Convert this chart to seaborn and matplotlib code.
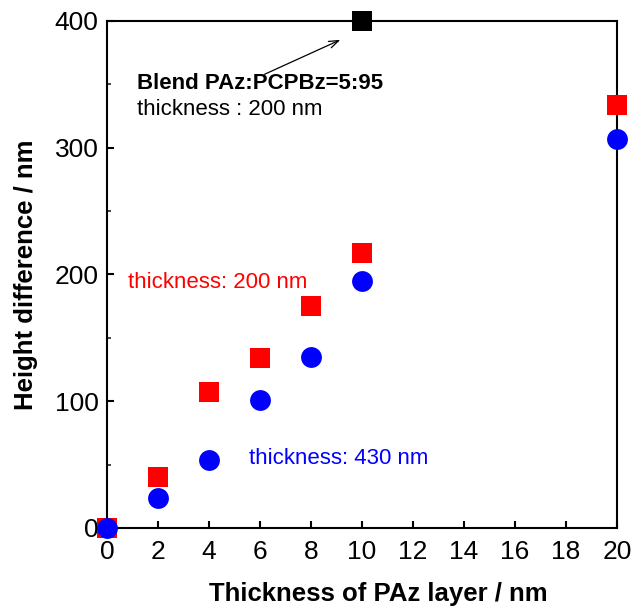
import matplotlib
matplotlib.use("Agg")
import matplotlib.pyplot as plt
import pandas as pd
import seaborn as sns
from matplotlib.ticker import MultipleLocator

# PAz layer thickness (nm) and height difference (nm)
x_pts = [0, 2, 4, 6, 8, 10, 20]
h_200 = [0, 40, 107, 134, 175, 217, 334]
h_430 = [0, 24, 54, 101, 135, 195, 307]
blend_x = [10]
blend_h = [400]

df200 = pd.DataFrame({'x': x_pts, 'h': h_200})
df430 = pd.DataFrame({'x': x_pts, 'h': h_430})
dfblend = pd.DataFrame({'x': blend_x, 'h': blend_h})

sns.set_style("white")
plt.rcParams['font.family'] = ['Liberation Sans', 'DejaVu Sans']
plt.rcParams['text.color'] = 'black'
plt.rcParams['axes.labelcolor'] = 'black'

fig = plt.figure(figsize=(6.32, 6.08), dpi=100)
ax = fig.add_axes([0.1693, 0.1316, 0.807, 0.834])

sns.scatterplot(data=df200, x='x', y='h', marker='s', s=190, color='#ff0000',
                linewidth=0, ax=ax, clip_on=False, zorder=3)
sns.scatterplot(data=df430, x='x', y='h', marker='o', s=225, color='#0000ff',
                linewidth=0, ax=ax, clip_on=False, zorder=4)
sns.scatterplot(data=dfblend, x='x', y='h', marker='s', s=190, color='black',
                linewidth=0, ax=ax, clip_on=False, zorder=5)

ax.set_xlim(0, 20)
ax.set_ylim(0, 400)
ax.xaxis.set_major_locator(MultipleLocator(2))
ax.yaxis.set_major_locator(MultipleLocator(100))
ax.yaxis.set_minor_locator(MultipleLocator(50))
ax.tick_params(axis='both', which='major', direction='in', length=5, width=1.5,
               labelsize=19, colors='black')
ax.tick_params(axis='x', which='major', pad=9, bottom=True, top=False)
ax.tick_params(axis='y', which='major', pad=6, left=True, right=False)
ax.tick_params(axis='y', which='minor', direction='in', length=3, width=1.2, left=True)
for sp in ax.spines.values():
    sp.set_linewidth(1.5)
    sp.set_color('black')

ax.set_xlabel('Thickness of PAz layer / nm', fontsize=18.5, fontweight='bold')
ax.set_ylabel('Height difference / nm', fontsize=18.5, fontweight='bold', labelpad=12)
# x label sits a bit right of the axis centre in the original
ax.xaxis.set_label_coords(0.531, -0.107)

ax.annotate('', xy=(9.25, 386), xytext=(6.08, 357),
            arrowprops=dict(arrowstyle='->,head_length=0.7,head_width=0.25',
                            color='black', lw=0.9))
ax.text(1.18, 351, 'Blend PAz:PCPBz=5:95', fontsize=16, fontweight='bold', va='center')
ax.text(1.18, 330, 'thickness : 200 nm', fontsize=16, va='center')
ax.text(0.82, 194, 'thickness: 200 nm', fontsize=16, color='#ff0000', va='center')
ax.text(5.57, 55, 'thickness: 430 nm', fontsize=16, color='#0000ff', va='center')

fig.savefig('out.png', dpi=100)
